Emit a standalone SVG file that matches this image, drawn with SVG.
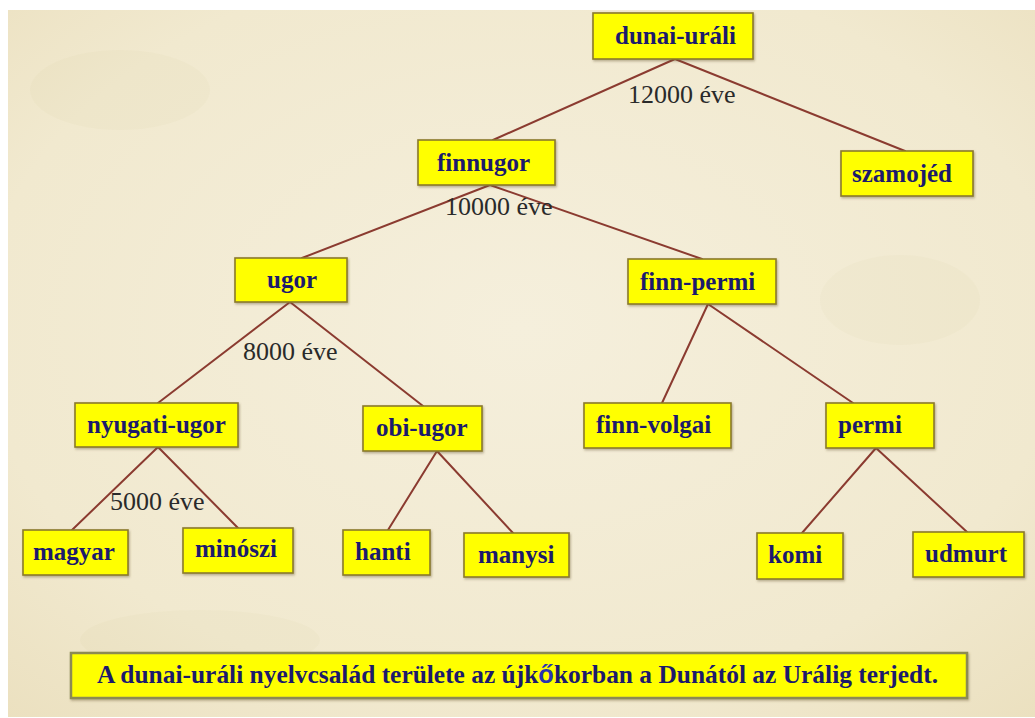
<svg xmlns="http://www.w3.org/2000/svg" width="1035" height="718" viewBox="0 0 1035 718">
<defs>
<radialGradient id="parch" cx="50%" cy="45%" r="75%">
<stop offset="0" stop-color="#f5efdc"/>
<stop offset="0.7" stop-color="#f1e9cf"/>
<stop offset="1" stop-color="#ebe0bf"/>
</radialGradient>
<filter id="sh" x="-10%" y="-10%" width="120%" height="130%">
<feDropShadow dx="1" dy="1.5" stdDeviation="1" flood-color="#6b5a30" flood-opacity="0.45"/>
</filter>
</defs>
<style>
.box{fill:#ffff00;stroke:#8a7a2c;stroke-width:1.6;filter:url(#sh)}
.nt{font-family:'Liberation Serif','DejaVu Serif',serif;font-weight:bold;font-size:25px;fill:#1c1a6c}
.lbl{font-family:'Liberation Serif','DejaVu Serif',serif;font-size:26px;fill:#2a2a2a}
.edge{stroke:#8b3b30;stroke-width:2;fill:none;stroke-linecap:round}
</style>
<rect x="0" y="0" width="1035" height="718" fill="#ffffff"/>
<rect x="8" y="10" width="1027" height="707" fill="url(#parch)"/>
<g opacity="0.035" fill="#b89c5a">
<ellipse cx="120" cy="90" rx="90" ry="40"/>
<ellipse cx="900" cy="300" rx="80" ry="45"/>
<ellipse cx="200" cy="640" rx="120" ry="30"/>
</g>
<g id="connectors">
<line class="edge" x1="675" y1="59" x2="493" y2="140"/>
<line class="edge" x1="675" y1="59" x2="905" y2="151"/>
<line class="edge" x1="490" y1="185" x2="302" y2="258"/>
<line class="edge" x1="490" y1="185" x2="702" y2="259"/>
<line class="edge" x1="290" y1="302" x2="158" y2="403"/>
<line class="edge" x1="290" y1="302" x2="423" y2="406"/>
<line class="edge" x1="158" y1="447" x2="72" y2="530"/>
<line class="edge" x1="158" y1="447" x2="238" y2="528"/>
<line class="edge" x1="437" y1="451" x2="388" y2="530"/>
<line class="edge" x1="437" y1="451" x2="513" y2="533"/>
<line class="edge" x1="708" y1="304" x2="662" y2="403"/>
<line class="edge" x1="708" y1="304" x2="853" y2="403"/>
<line class="edge" x1="876" y1="448" x2="802" y2="533"/>
<line class="edge" x1="876" y1="448" x2="967" y2="532"/>
</g>
<g id="labels">
<text class="lbl" x="628" y="103">12000 éve</text>
<text class="lbl" x="445" y="215">10000 éve</text>
<text class="lbl" x="243" y="360">8000 éve</text>
<text class="lbl" x="110" y="510">5000 éve</text>
</g>
<g id="n-dunai-urali"><rect class="box" x="593" y="13" width="160" height="46"/><text class="nt" x="615" y="44">dunai-uráli</text></g>
<g id="n-finnugor"><rect class="box" x="418" y="140" width="137" height="45"/><text class="nt" x="437" y="171">finnugor</text></g>
<g id="n-szamojed"><rect class="box" x="841" y="151" width="132" height="45"/><text class="nt" x="852" y="182">szamojéd</text></g>
<g id="n-ugor"><rect class="box" x="235" y="258" width="112" height="44"/><text class="nt" x="267" y="288">ugor</text></g>
<g id="n-finn-permi"><rect class="box" x="628" y="259" width="148" height="45"/><text class="nt" x="640" y="290">finn-permi</text></g>
<g id="n-nyugati-ugor"><rect class="box" x="75" y="403" width="163" height="44"/><text class="nt" x="87" y="433">nyugati-ugor</text></g>
<g id="n-obi-ugor"><rect class="box" x="363" y="406" width="119" height="45"/><text class="nt" x="376" y="436">obi-ugor</text></g>
<g id="n-finn-volgai"><rect class="box" x="584" y="403" width="147" height="45"/><text class="nt" x="596" y="433">finn-volgai</text></g>
<g id="n-permi"><rect class="box" x="826" y="403" width="108" height="45"/><text class="nt" x="838" y="433">permi</text></g>
<g id="n-magyar"><rect class="box" x="23" y="530" width="105" height="45"/><text class="nt" x="33" y="560">magyar</text></g>
<g id="n-minoszi"><rect class="box" x="183" y="528" width="110" height="45"/><text class="nt" x="195" y="557">minószi</text></g>
<g id="n-hanti"><rect class="box" x="343" y="530" width="87" height="45"/><text class="nt" x="355" y="560">hanti</text></g>
<g id="n-manysi"><rect class="box" x="464" y="533" width="105" height="44"/><text class="nt" x="478" y="563">manysi</text></g>
<g id="n-komi"><rect class="box" x="757" y="533" width="86" height="46"/><text class="nt" x="768" y="563">komi</text></g>
<g id="n-udmurt"><rect class="box" x="913" y="532" width="111" height="45"/><text class="nt" x="925" y="562">udmurt</text></g>
<g id="n-note"><rect class="box" x="71" y="653" width="896" height="45" style="stroke:#8c8a52;stroke-width:2.5"/><text class="nt" x="97" y="683" textLength="841" lengthAdjust="spacingAndGlyphs">A dunai-uráli nyelvcsalád területe az újk<tspan style="font-family:'Liberation Sans',Arial,sans-serif;fill:#2a34b0">ő</tspan>korban a Dunától az Urálig terjedt.</text></g>
</svg>
